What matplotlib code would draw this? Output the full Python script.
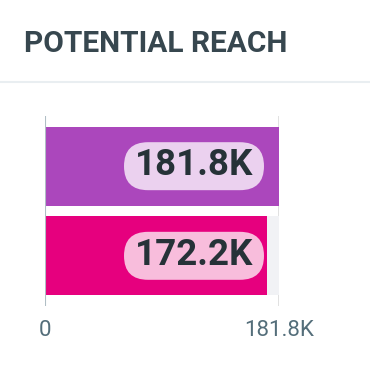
import matplotlib.pyplot as plt
from matplotlib.patches import FancyBboxPatch
from matplotlib.transforms import IdentityTransform

# data
values = [181.8, 172.2]          # thousands
labels = ['181.8K', '172.2K']
bar_colors = ['#ab47bc', '#e6007e']
pill_colors = ['#ebd1ef', '#f8bddc']
x_max = 181.8
tick_vals = [0, 181.8]
tick_labels = ['0', '181.8K']

plt.rcParams['font.family'] = ['Roboto', 'DejaVu Sans']

fig = plt.figure(figsize=(3.70, 3.76), dpi=100)
W, H = 370, 376

# card title and separator
fig.text(24 / W, 1 - 44 / H, 'POTENTIAL REACH', fontsize=21.5, fontweight='bold',
         color='#37474f', va='center', ha='left')
fig.add_artist(plt.Line2D([0, 1], [1 - 82 / H, 1 - 82 / H], color='#e9eef1', lw=1.5))

ax = fig.add_axes([45 / W, 1 - 306 / H, (279 - 45) / W, (306 - 116) / H])
ax.set_xlim(0, x_max)
ax.set_ylim(1.56, -0.56)

ypos = list(range(len(values)))
# background tracks
ax.barh(ypos, [x_max] * len(values), height=0.88, color='#f1f2f5', zorder=1)
ax.barh(ypos, values, height=0.88, color=bar_colors, zorder=2)

# gridline at max
ax.axvline(x_max, color='#dcdcdc', lw=1.2, zorder=0.5)
ax.axvline(0, color='#b0bec5', lw=1.5, zorder=3)

# value pills (sized in pixels, anchored on the axis scale)
pill_w, pill_h, gap = 140, 48, 15
for y, lab, pc in zip(ypos, labels, pill_colors):
    xr, yc = ax.transData.transform((x_max, y))
    x0 = xr - gap - pill_w
    pill = FancyBboxPatch((x0, yc - pill_h / 2), pill_w, pill_h,
                          boxstyle='round,pad=0,rounding_size=24',
                          fc=pc, ec='none', transform=IdentityTransform(),
                          zorder=4)
    ax.add_artist(pill)
    ax.annotate(lab, xy=(x_max, y), xytext=(-gap - pill_w / 2, 1),
                textcoords='offset pixels', ha='center', va='center',
                fontsize=26.5, fontweight='bold', color='#263238', zorder=5)

for s in ax.spines.values():
    s.set_visible(False)
ax.set_yticks([])
ax.set_xticks(tick_vals)
ax.set_xticklabels(tick_labels)
ax.tick_params(axis='x', length=0, pad=10, labelsize=16, labelcolor='#546e7a')

fig.savefig('out.png', dpi=100)
